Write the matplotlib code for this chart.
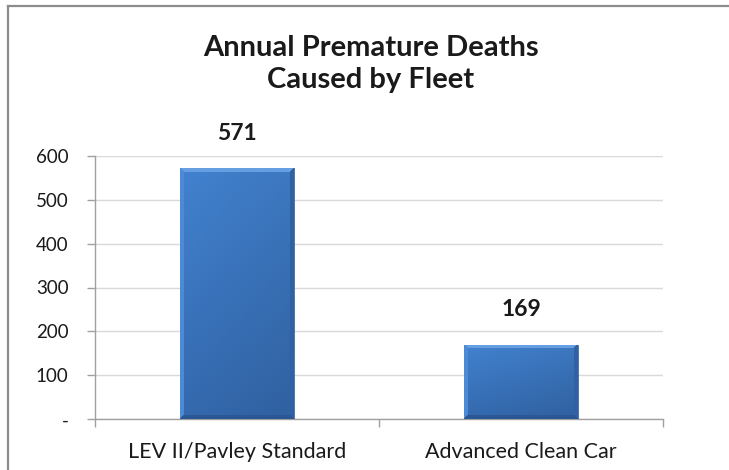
import matplotlib
matplotlib.use("Agg")
import matplotlib.pyplot as plt
import numpy as np
from matplotlib.lines import Line2D

categories = ["LEV II/Pavley Standard", "Advanced Clean Car"]
values = [571, 169]
title = "Annual Premature Deaths\nCaused by Fleet"
yticks = [0, 100, 200, 300, 400, 500, 600]
ytick_labels = ["-", "100", "200", "300", "400", "500", "600"]

plt.rcParams['font.family'] = ['Lato', 'DejaVu Sans']

W, H = 729, 470
fig = plt.figure(figsize=(W / 100, H / 100), dpi=100)
fig.patch.set_facecolor("white")

ax_l, ax_r, ax_t, ax_b = 95, 663, 155.7, 419.3
ax = fig.add_axes([ax_l / W, (H - ax_b) / H, (ax_r - ax_l) / W, (ax_b - ax_t) / H])

x = np.arange(len(categories))
bars = ax.bar(x, values, width=0.4, color="#3b77c1", zorder=3)
ax.set_xlim(-0.5, len(categories) - 0.5)
ax.set_ylim(0, 600)

# gradient + bevel fill for bars
def bar_image(wpx, hpx, bevel=4):
    wpx, hpx = max(int(wpx), 2), max(int(hpx), 2)
    yy, xx = np.mgrid[0:hpx, 0:wpx]
    base_top = np.array([0x42, 0x82, 0xd0]) / 255
    base_bot = np.array([0x34, 0x69, 0xae]) / 255
    t = yy / max(hpx - 1, 1)
    img = base_top[None, None, :] * (1 - t[..., None]) + base_bot[None, None, :] * t[..., None]
    s = xx / max(wpx - 1, 1)
    img = img * (1.0 - 0.08 * s[..., None])
    d_top = yy
    d_bot = hpx - 1 - yy
    d_left = xx
    d_right = wpx - 1 - xx
    dmin = np.minimum.reduce([d_top, d_bot, d_left, d_right])
    inb = dmin < bevel
    light_top = np.array([0x66, 0x9e, 0xe2]) / 255
    light_left = np.array([0x4c, 0x8a, 0xd6]) / 255
    dark_right = np.array([0x30, 0x62, 0xa3]) / 255
    dark_bot = np.array([0x2b, 0x58, 0x94]) / 255
    out = img.copy()
    for d, c in [(d_top, light_top), (d_left, light_left), (d_right, dark_right), (d_bot, dark_bot)]:
        m = inb & (d == dmin)
        out[m] = c
    return out

fig.canvas.draw()
for b in bars:
    bb = b.get_window_extent()
    img = bar_image(bb.width, bb.height)
    im = ax.imshow(img, extent=[b.get_x(), b.get_x() + b.get_width(), 0, b.get_height()],
                   origin="upper", aspect="auto", zorder=4, interpolation="nearest")
    im.set_clip_path(b)
    b.set_edgecolor("#2f5d98")
    b.set_linewidth(0.5)
ax.set_xlim(-0.5, len(categories) - 0.5)
ax.set_ylim(0, 600)

# value labels
for xi, v in zip(x, values):
    ax.annotate(f"{v}", (xi, v), xytext=(0, 25.5), textcoords="offset points",
                ha="center", va="center", fontsize=16.5, fontweight="bold", color="#1a1a1a")

ax.set_yticks(yticks)
ax.set_yticklabels(ytick_labels)
ax.set_xticks(x)
ax.set_xticklabels(categories)
ax.set_xticks(np.arange(-0.5, len(categories), 1.0), minor=True)
ax.tick_params(axis="x", which="major", length=0, pad=16.5, labelsize=15.5, labelcolor="#1a1a1a")
ax.tick_params(axis="x", which="minor", length=6, width=1, color="#a0a0a0", direction="out")
ax.tick_params(axis="y", which="major", length=6, width=1, color="#a0a0a0", pad=13,
               labelsize=13.5, labelcolor="#1a1a1a")

ax.grid(axis="y", color="#d9d9d9", linewidth=1, zorder=0)
ax.set_axisbelow(True)
for s in ["top", "right"]:
    ax.spines[s].set_visible(False)
for s in ["left", "bottom"]:
    ax.spines[s].set_color("#a0a0a0")
    ax.spines[s].set_linewidth(1)

fig.text(371 / W, 1 - 64 / H, title, ha="center", va="center", fontsize=21,
         fontweight="bold", color="#1a1a1a", linespacing=1.3)

# outer frame (top and left edges visible)
fig.add_artist(Line2D([8 / W, 1], [1 - 6 / H, 1 - 6 / H], transform=fig.transFigure,
                      color="#8c8c8c", linewidth=1.6))
fig.add_artist(Line2D([8 / W, 8 / W], [0, 1 - 6 / H], transform=fig.transFigure,
                      color="#8c8c8c", linewidth=1.6))

fig.savefig("out.png", dpi=100)
